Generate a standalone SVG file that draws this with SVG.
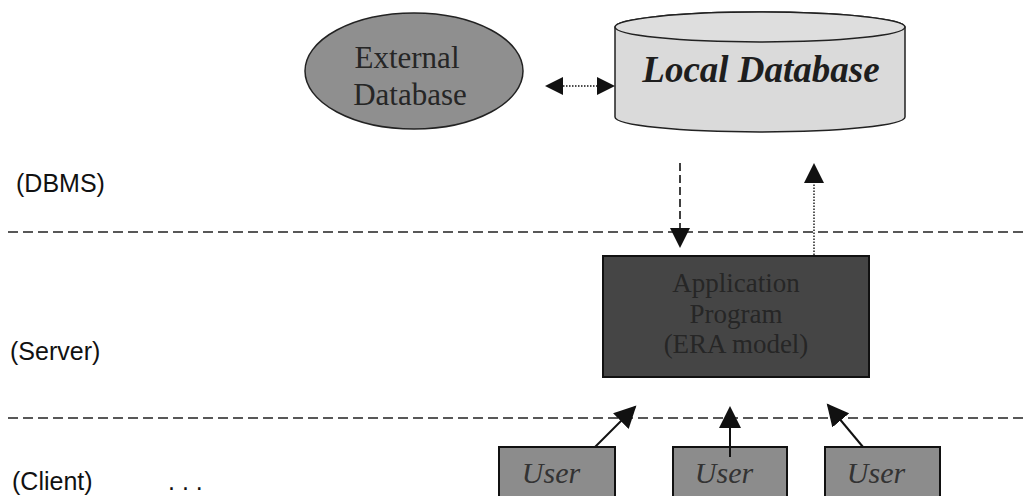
<svg xmlns="http://www.w3.org/2000/svg" width="1028" height="496" viewBox="0 0 1028 496">
<defs>
<style>
.sep{stroke:#222;stroke-width:1.6;stroke-dasharray:10 5;fill:none}
.lbl{font-family:"Liberation Sans",Arial,sans-serif;font-size:25px;fill:#111}
.serif{font-family:"Liberation Serif","Times New Roman",serif}
.conn{stroke:#111;stroke-width:2;fill:none}
.head{fill:#111}
.usr{fill:#8c8c8c;stroke:#111;stroke-width:2}
.usrt{font-family:"Liberation Serif","Times New Roman",serif;font-style:italic;font-size:30px;fill:#333;text-anchor:middle}
</style>
<marker id="ah" markerUnits="userSpaceOnUse" markerWidth="24" markerHeight="22" refX="20" refY="11" orient="auto" viewBox="0 0 24 22">
<path d="M0,0 L22,11 L0,22 Z" fill="#111"/>
</marker>
</defs>
<rect width="1028" height="496" fill="#fff"/>

<g id="layer-labels">
<text class="lbl" x="16" y="192">(DBMS)</text>
<text class="lbl" x="10" y="360">(Server)</text>
<text class="lbl" x="12" y="490">(Client)</text>
<text class="lbl" x="168" y="490">. . .</text>
<line class="sep" x1="8" y1="232" x2="1028" y2="232"/>
<line class="sep" x1="8" y1="418" x2="1028" y2="418"/>
</g>

<g id="external-database">
<ellipse cx="414" cy="71" rx="109" ry="58" fill="#8f8f8f" stroke="#222" stroke-width="1.5"/>
<text class="serif" x="407" y="68" font-size="31" fill="#262626" text-anchor="middle">External</text>
<text class="serif" x="410" y="105" font-size="31" fill="#262626" text-anchor="middle">Database</text>
</g>

<g id="local-database">
<path d="M615,27 L615,117 A145,15 0 0 0 905,117 L905,27 A145,15 0 0 0 615,27 Z" fill="#dadada" stroke="#222" stroke-width="1.5"/>
<ellipse cx="760" cy="27" rx="145" ry="15" fill="#dedede" stroke="#222" stroke-width="1.5"/>
<text class="serif" x="761" y="82" font-size="37" font-weight="bold" font-style="italic" fill="#1e1e1e" text-anchor="middle">Local Database</text>
</g>

<g id="application-program">
<rect x="603" y="256" width="266" height="121" fill="#454545" stroke="#111" stroke-width="2"/>
<text class="serif" x="736" y="292" font-size="27" fill="#262626" text-anchor="middle">Application</text>
<text class="serif" x="736" y="323" font-size="27" fill="#262626" text-anchor="middle">Program</text>
<text class="serif" x="736" y="353" font-size="27" fill="#262626" text-anchor="middle">(ERA model)</text>
</g>

<g id="user-1">
<rect class="usr" x="499" y="447" width="116" height="60"/>
<text class="usrt" x="551" y="483">User</text>
</g>
<g id="user-2">
<rect class="usr" x="673" y="447" width="114" height="60"/>
<text class="usrt" x="724" y="483">User</text>
</g>
<g id="user-3">
<rect class="usr" x="825" y="447" width="115" height="60"/>
<text class="usrt" x="876" y="483">User</text>
</g>

<g id="connectors">
<line x1="563" y1="86" x2="597" y2="86" stroke="#111" stroke-width="1.5" stroke-dasharray="1.5 1.5"/>
<path class="head" d="M545,86 L563,77 L563,95 Z"/>
<path class="head" d="M615,86 L597,77 L597,95 Z"/>
<line x1="680" y1="163" x2="680" y2="230" stroke="#111" stroke-width="1.6" stroke-dasharray="8 4"/>
<path class="head" d="M670,228 L690,228 L680,248 Z"/>
<line x1="814" y1="255" x2="814" y2="183" stroke="#111" stroke-width="1.4" stroke-dasharray="1.5 1.5"/>
<path class="head" d="M804,183 L824,183 L814,163 Z"/>
<line class="conn" x1="595" y1="447" x2="635" y2="407" marker-end="url(#ah)"/>
<line class="conn" x1="730" y1="457" x2="730" y2="408" marker-end="url(#ah)"/>
<line class="conn" x1="863" y1="447" x2="828" y2="405" marker-end="url(#ah)"/>
</g>
</svg>
